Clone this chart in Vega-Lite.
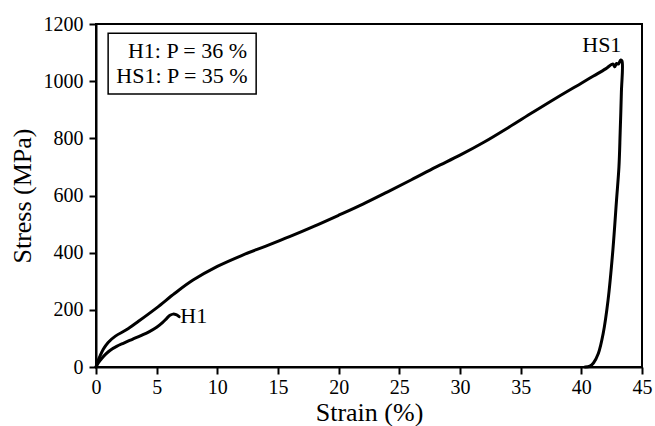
{
  "$schema": "https://vega.github.io/schema/vega-lite/v6.json",
  "width": 546,
  "height": 343,
  "autosize": "none",
  "padding": {"left": 96, "top": 24, "right": 13, "bottom": 59},
  "background": "white",
  "config": {
    "view": {"stroke": "black", "strokeWidth": 2},
    "font": "Liberation Serif, DejaVu Serif, serif",
    "text": {"font": "Liberation Serif, DejaVu Serif, serif"},
    "axis": {"grid": false, "domainColor": "black", "domainWidth": 2, "tickColor": "black", "tickWidth": 2, "labelColor": "black", "titleColor": "black", "labelFont": "Liberation Serif, DejaVu Serif, serif", "titleFont": "Liberation Serif, DejaVu Serif, serif", "titleFontWeight": "normal"}
  },
  "datasets": {
    "curves": [
      {"series": "HS1", "i": 1, "strain": 0, "stress": 0},
      {"series": "HS1", "i": 2, "strain": 0.15, "stress": 20},
      {"series": "HS1", "i": 3, "strain": 0.33, "stress": 38},
      {"series": "HS1", "i": 4, "strain": 0.6, "stress": 62},
      {"series": "HS1", "i": 5, "strain": 1.0, "stress": 86},
      {"series": "HS1", "i": 6, "strain": 1.6, "stress": 108},
      {"series": "HS1", "i": 7, "strain": 2.5, "stress": 130},
      {"series": "HS1", "i": 8, "strain": 3.5, "stress": 160},
      {"series": "HS1", "i": 9, "strain": 5.0, "stress": 207},
      {"series": "HS1", "i": 10, "strain": 6.5, "stress": 258},
      {"series": "HS1", "i": 11, "strain": 8.0, "stress": 304},
      {"series": "HS1", "i": 12, "strain": 10.0, "stress": 352},
      {"series": "HS1", "i": 13, "strain": 12.0, "stress": 390},
      {"series": "HS1", "i": 14, "strain": 14.0, "stress": 423},
      {"series": "HS1", "i": 15, "strain": 16.0, "stress": 457},
      {"series": "HS1", "i": 16, "strain": 18.0, "stress": 493},
      {"series": "HS1", "i": 17, "strain": 20.0, "stress": 531},
      {"series": "HS1", "i": 18, "strain": 22.0, "stress": 570},
      {"series": "HS1", "i": 19, "strain": 24.0, "stress": 612},
      {"series": "HS1", "i": 20, "strain": 26.0, "stress": 655},
      {"series": "HS1", "i": 21, "strain": 28.0, "stress": 699},
      {"series": "HS1", "i": 22, "strain": 30.0, "stress": 741},
      {"series": "HS1", "i": 23, "strain": 32.0, "stress": 787},
      {"series": "HS1", "i": 24, "strain": 34.0, "stress": 838},
      {"series": "HS1", "i": 25, "strain": 36.0, "stress": 891},
      {"series": "HS1", "i": 26, "strain": 38.0, "stress": 943},
      {"series": "HS1", "i": 27, "strain": 40.0, "stress": 993},
      {"series": "HS1", "i": 28, "strain": 41.0, "stress": 1018},
      {"series": "HS1", "i": 29, "strain": 42.0, "stress": 1043},
      {"series": "HS1", "i": 30, "strain": 42.6, "stress": 1060},
      {"series": "HS1", "i": 31, "strain": 42.75, "stress": 1050},
      {"series": "HS1", "i": 32, "strain": 42.9, "stress": 1062},
      {"series": "HS1", "i": 33, "strain": 43.05, "stress": 1060},
      {"series": "HS1", "i": 34, "strain": 43.25, "stress": 1074},
      {"series": "HS1", "i": 35, "strain": 43.35, "stress": 1071},
      {"series": "HS1", "i": 36, "strain": 43.3, "stress": 960},
      {"series": "HS1", "i": 37, "strain": 43.2, "stress": 820},
      {"series": "HS1", "i": 38, "strain": 43.1, "stress": 700},
      {"series": "HS1", "i": 39, "strain": 42.9, "stress": 584},
      {"series": "HS1", "i": 40, "strain": 42.6, "stress": 409},
      {"series": "HS1", "i": 41, "strain": 42.2, "stress": 233},
      {"series": "HS1", "i": 42, "strain": 41.8, "stress": 117},
      {"series": "HS1", "i": 43, "strain": 41.4, "stress": 47},
      {"series": "HS1", "i": 44, "strain": 41.0, "stress": 14},
      {"series": "HS1", "i": 45, "strain": 40.7, "stress": 3},
      {"series": "HS1", "i": 46, "strain": 40.3, "stress": 0},
      {"series": "H1", "i": 1, "strain": 0, "stress": 0},
      {"series": "H1", "i": 2, "strain": 0.2, "stress": 15},
      {"series": "H1", "i": 3, "strain": 0.47, "stress": 30},
      {"series": "H1", "i": 4, "strain": 0.8, "stress": 45},
      {"series": "H1", "i": 5, "strain": 1.15, "stress": 58},
      {"series": "H1", "i": 6, "strain": 1.7, "stress": 72},
      {"series": "H1", "i": 7, "strain": 2.25, "stress": 83},
      {"series": "H1", "i": 8, "strain": 3.0, "stress": 97},
      {"series": "H1", "i": 9, "strain": 3.7, "stress": 110},
      {"series": "H1", "i": 10, "strain": 4.4, "stress": 124},
      {"series": "H1", "i": 11, "strain": 5.0, "stress": 139},
      {"series": "H1", "i": 12, "strain": 5.5, "stress": 156},
      {"series": "H1", "i": 13, "strain": 5.85, "stress": 171},
      {"series": "H1", "i": 14, "strain": 6.1, "stress": 181},
      {"series": "H1", "i": 15, "strain": 6.35, "stress": 185},
      {"series": "H1", "i": 16, "strain": 6.6, "stress": 183},
      {"series": "H1", "i": 17, "strain": 6.85, "stress": 176}
    ],
    "box": [{"x1": 1.0, "x2": 13.2, "y1": 955, "y2": 1168}],
    "boxText": [
      {"x": 12.45, "y": 1081, "label": "H1: P = 36 %"},
      {"x": 12.5, "y": 993, "label": "HS1: P = 35 %"}
    ],
    "labelsLeft": [{"x": 6.95, "y": 153, "label": "H1"}],
    "labelsRight": [{"x": 43.3, "y": 1102, "label": "HS1"}]
  },
  "layer": [
    {
      "data": {"name": "curves"},
      "mark": {"type": "line", "color": "black", "strokeWidth": 3, "strokeJoin": "round", "strokeCap": "round", "interpolate": "catmull-rom"},
      "encoding": {
        "x": {"field": "strain", "type": "quantitative", "scale": {"domain": [0, 45], "nice": false},
          "axis": {"values": [0, 2.5, 5, 7.5, 10, 12.5, 15, 17.5, 20, 22.5, 25, 27.5, 30, 32.5, 35, 37.5, 40, 42.5, 45],
            "labelExpr": "datum.value % 5 === 0 ? format(datum.value, 'd') : ''",
            "tickSize": 7, "labelFontSize": 20, "labelPadding": 3, "labelFlush": false, "labelOverlap": false, "title": "Strain (%)", "titleFontSize": 26, "titlePadding": 2,
            "encode": {"ticks": {"update": {"y2": {"signal": "datum.value % 5 === 0 ? 7 : 4"}}}}}},
        "y": {"field": "stress", "type": "quantitative", "scale": {"domain": [0, 1200], "nice": false},
          "axis": {"values": [0, 100, 200, 300, 400, 500, 600, 700, 800, 900, 1000, 1100, 1200],
            "labelExpr": "datum.value % 200 === 0 ? format(datum.value, 'd') : ''",
            "tickSize": 7, "labelFontSize": 20, "labelPadding": 6, "labelFlush": false, "labelOverlap": false, "title": "Stress (MPa)", "titleFontSize": 26, "titlePadding": 8,
            "encode": {"ticks": {"update": {"x2": {"signal": "datum.value % 200 === 0 ? -7 : -4"}}}}}},
        "detail": {"field": "series"},
        "order": {"field": "i", "type": "quantitative"}
      }
    },
    {
      "data": {"name": "box"},
      "mark": {"type": "rect", "fill": null, "fillOpacity": 0, "stroke": "black", "strokeWidth": 1.5},
      "encoding": {
        "x": {"field": "x1", "type": "quantitative"},
        "x2": {"field": "x2"},
        "y": {"field": "y1", "type": "quantitative"},
        "y2": {"field": "y2"}
      }
    },
    {
      "data": {"name": "boxText"},
      "mark": {"type": "text", "align": "right", "baseline": "alphabetic", "fontSize": 22, "font": "Liberation Serif, DejaVu Serif, serif", "color": "black"},
      "encoding": {
        "x": {"field": "x", "type": "quantitative"},
        "y": {"field": "y", "type": "quantitative"},
        "text": {"field": "label"}
      }
    },
    {
      "data": {"name": "labelsLeft"},
      "mark": {"type": "text", "align": "left", "baseline": "alphabetic", "fontSize": 22, "font": "Liberation Serif, DejaVu Serif, serif", "color": "black"},
      "encoding": {
        "x": {"field": "x", "type": "quantitative"},
        "y": {"field": "y", "type": "quantitative"},
        "text": {"field": "label"}
      }
    },
    {
      "data": {"name": "labelsRight"},
      "mark": {"type": "text", "align": "right", "baseline": "alphabetic", "fontSize": 22, "font": "Liberation Serif, DejaVu Serif, serif", "color": "black"},
      "encoding": {
        "x": {"field": "x", "type": "quantitative"},
        "y": {"field": "y", "type": "quantitative"},
        "text": {"field": "label"}
      }
    }
  ]
}
